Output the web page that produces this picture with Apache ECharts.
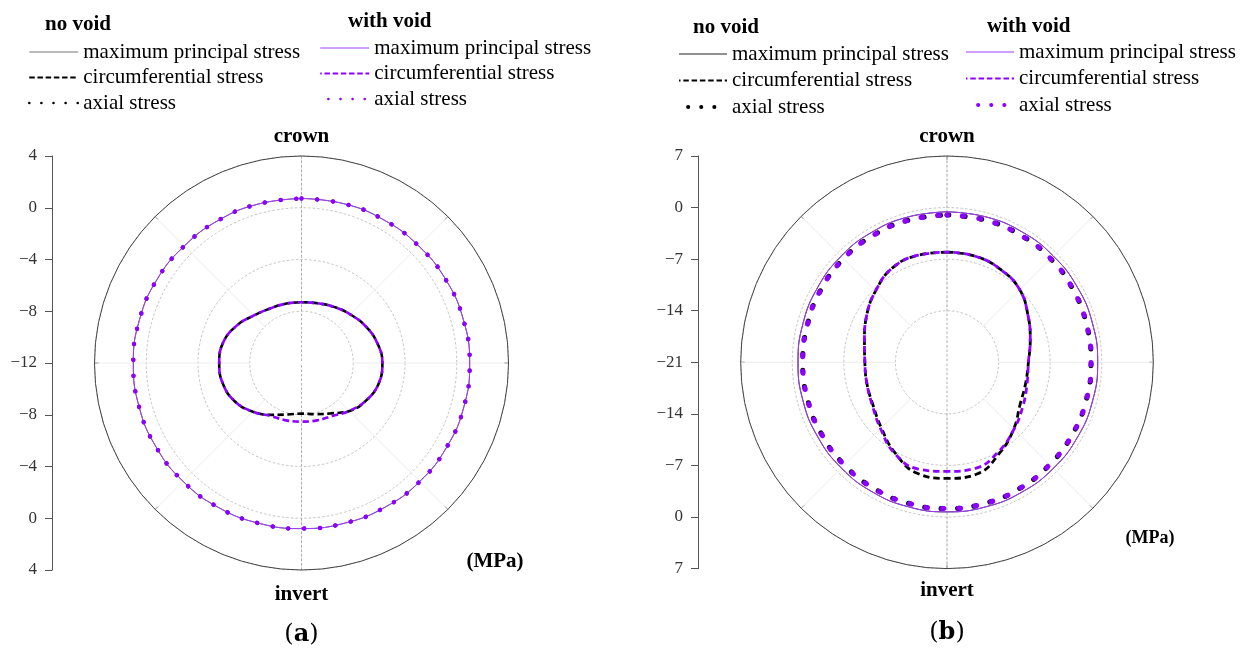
<!DOCTYPE html>
<html>
<head>
<meta charset="utf-8">
<script src="https://cdn.jsdelivr.net/npm/echarts@6/dist/echarts.min.js"></script>
<style>
  html, body { margin: 0; padding: 0; background: #fff; }
  #main { width: 1250px; height: 649px; }
</style>
</head>
<body>
<div id="main"></div>
<script>
// Angular positions (degrees clockwise from the crown)
const angles = [0, 15, 30, 45, 60, 75, 90, 105, 120, 135, 150, 165,
                180, 195, 210, 225, 240, 255, 270, 285, 300, 315, 330, 345];

// Panel (a) stresses, MPa
const aPrincipalNoVoid = [0.72, 0.74, 0.76, 0.80, 0.88, 0.95, 1.00, 1.00, 0.97, 0.94, 0.88, 0.82,
                          0.80, 0.82, 0.88, 0.94, 0.98, 1.00, 1.00, 0.96, 0.90, 0.80, 0.76, 0.73];
const aPrincipalVoid   = [0.72, 0.74, 0.76, 0.80, 0.88, 0.95, 1.00, 1.00, 0.97, 0.94, 0.88, 0.82,
                          0.80, 0.82, 0.88, 0.94, 0.98, 1.00, 1.00, 0.96, 0.90, 0.80, 0.76, 0.73];
const aCircNoVoid = [-7.30, -7.22, -6.99, -6.68, -6.29, -5.95, -5.75, -5.83, -6.22, -6.76, -7.50, -7.91,
                     -8.09, -7.88, -7.37, -6.68, -6.06, -5.72, -5.64, -5.75, -6.22, -6.80, -7.14, -7.26];
const aCircVoid   = [-7.30, -7.22, -6.99, -6.68, -6.29, -5.95, -5.75, -5.83, -6.22, -6.76, -7.26, -7.41,
                     -7.47, -7.41, -7.26, -6.68, -6.06, -5.72, -5.64, -5.75, -6.22, -6.80, -7.14, -7.26];
const aAxialNoVoid = [0.72, 0.74, 0.76, 0.80, 0.88, 0.95, 1.00, 1.00, 0.97, 0.94, 0.88, 0.82,
                      0.80, 0.82, 0.88, 0.94, 0.98, 1.00, 1.00, 0.96, 0.90, 0.80, 0.76, 0.73];
const aAxialVoid   = [0.72, 0.74, 0.76, 0.80, 0.88, 0.95, 1.00, 1.00, 0.97, 0.94, 0.88, 0.82,
                      0.80, 0.82, 0.88, 0.94, 0.98, 1.00, 1.00, 0.96, 0.90, 0.80, 0.76, 0.73];

// Panel (b) stresses, MPa
const bPrincipalNoVoid = [-0.57, -0.57, -0.58, -0.60, -0.58, -0.56, -0.55, -0.56, -0.58, -0.62, -0.66, -0.69,
                          -0.70, -0.70, -0.70, -0.72, -0.75, -0.77, -0.78, -0.76, -0.72, -0.66, -0.61, -0.58];
const bPrincipalVoid   = [-0.57, -0.57, -0.58, -0.60, -0.58, -0.56, -0.55, -0.56, -0.58, -0.62, -0.66, -0.69,
                          -0.70, -0.70, -0.70, -0.72, -0.75, -0.77, -0.78, -0.76, -0.72, -0.66, -0.61, -0.58];
const bCircNoVoid = [-6.05, -6.10, -6.45, -7.05, -8.30, -9.30, -9.95, -9.95, -9.55, -8.20, -6.75, -5.30,
                     -5.25, -5.40, -6.85, -8.40, -9.40, -9.75, -9.85, -9.40, -8.40, -7.30, -6.20, -5.95];
const bCircVoid   = [-6.05, -6.10, -6.45, -7.05, -8.30, -9.30, -9.95, -9.75, -9.10, -8.15, -7.00, -6.10,
                     -6.20, -6.00, -6.75, -8.25, -9.30, -9.75, -9.85, -9.40, -8.40, -7.30, -6.20, -5.95];
const bAxialNoVoid = [-1.00, -1.02, -1.07, -1.11, -1.25, -1.38, -1.45, -1.42, -1.37, -1.33, -1.24, -1.17,
                      -1.15, -1.17, -1.22, -1.30, -1.38, -1.42, -1.42, -1.38, -1.25, -1.13, -1.07, -1.02];
const bAxialVoid   = [-1.00, -1.02, -1.07, -1.11, -1.25, -1.38, -1.45, -1.42, -1.37, -1.33, -1.24, -1.17,
                      -1.15, -1.17, -1.22, -1.30, -1.38, -1.42, -1.42, -1.38, -1.25, -1.13, -1.07, -1.02];

// Radial scales: [centre value, outer value, step]
const aRadial = [-12, 4, 4];
const bRadial = [-21, 7, 7];

const legendNames = {
  p: 'maximum principal stress',
  c: 'circumferential stress',
  x: 'axial stress'
};

const SERIF = '"Liberation Serif", "Times New Roman", serif';
const PURPLE = '#8c00ff';
const PURPLE_LINE = '#a53cff';

// closed loop of [radius, angle] pairs
function loop(values) {
  const pts = values.map((v, i) => [v, angles[i]]);
  pts.push([values[0], 360]);
  return pts;
}

function minusLabel(v) {
  return v < 0 ? '\u2212' + (-v) : String(v);
}

// geometry for each panel
const panels = [
  { key: 'a', cx: 301.5, cy: 363, R: 207, axisX: 52, scale: aRadial },
  { key: 'b', cx: 947, cy: 362.3, R: 206.3, axisX: 698, scale: bRadial }
];

const polar = [], angleAxis = [], radiusAxis = [], grid = [], xAxis = [], yAxis = [];

panels.forEach((p, k) => {
  const [rMin, rMax, step] = p.scale;
  const innerR = p.R * step / (rMax - rMin);
  // main polar (data)
  polar.push({ center: [p.cx, p.cy], radius: [0, p.R] });
  angleAxis.push({
    polarIndex: 3 * k, type: 'value', min: 0, max: 360, interval: 45, startAngle: 90, clockwise: true,
    axisLine: { lineStyle: { color: '#444', width: 1 } },
    axisTick: { show: true, inside: true, length: 4, lineStyle: { color: '#444', width: 1 } },
    axisLabel: { show: false }, splitLine: { show: false }
  });
  radiusAxis.push({
    polarIndex: 3 * k, type: 'value', min: rMin, max: rMax, interval: step,
    axisLine: { show: false }, axisTick: { show: false }, axisLabel: { show: false },
    splitLine: { show: true, lineStyle: { color: '#b4b4b4', width: 0.8, type: [2.5, 2] } }
  });
  // faint radial spokes outside the innermost ring
  polar.push({ center: [p.cx, p.cy], radius: [innerR, p.R] });
  angleAxis.push({
    polarIndex: 3 * k + 1, type: 'value', min: 0, max: 360, interval: 45, startAngle: 90,
    axisLine: { show: false }, axisTick: { show: false }, axisLabel: { show: false },
    splitLine: { show: true, lineStyle: { color: '#ececec', width: 1 } }
  });
  radiusAxis.push({
    polarIndex: 3 * k + 1, type: 'value', min: 0, max: 1,
    axisLine: { show: false }, axisTick: { show: false }, axisLabel: { show: false }, splitLine: { show: false }
  });
  // crown–invert dashed line through the centre
  polar.push({ center: [p.cx, p.cy], radius: [0, p.R] });
  angleAxis.push({
    polarIndex: 3 * k + 2, type: 'value', min: 0, max: 360, interval: 180, startAngle: 90,
    axisLine: { show: false }, axisTick: { show: false }, axisLabel: { show: false },
    splitLine: { show: true, lineStyle: { color: '#9a9a9a', width: 0.8, type: [2.5, 2] } }
  });
  radiusAxis.push({
    polarIndex: 3 * k + 2, type: 'value', min: 0, max: 1,
    axisLine: { show: false }, axisTick: { show: false }, axisLabel: { show: false }, splitLine: { show: false }
  });
  // mirrored value scale on the left
  const span = rMax - rMin;
  grid.push({ left: p.axisX, top: p.cy - p.R, width: 1, height: 2 * p.R });
  xAxis.push({ gridIndex: k, type: 'value', show: false });
  yAxis.push({
    gridIndex: k, type: 'value', min: -span, max: span, interval: step,
    axisLine: { show: true, lineStyle: { color: '#555', width: 1 } },
    axisTick: { show: true, length: 7, lineStyle: { color: '#555' } },
    axisLabel: {
      margin: 15, color: '#333', fontFamily: SERIF, fontSize: 17,
      formatter: v => minusLabel(Math.abs(v) + rMin)
    },
    splitLine: { show: false }
  });
});

function lineSeries(name, polarIndex, values, lineStyle, z) {
  return {
    name, type: 'line', coordinateSystem: 'polar', polarIndex,
    data: loop(values), symbol: 'none', smooth: 0.45, z: z || 2,
    lineStyle, emphasis: { disabled: true }, silent: true
  };
}

const series = [
  // panel (a)
  lineSeries('a0p', 0, aPrincipalNoVoid, { color: '#555', width: 1 }),
  lineSeries('a0c', 0, aCircNoVoid, { color: '#000', width: 2.6, type: [6.5, 3.5] }),
  lineSeries('a0x', 0, aAxialNoVoid, { color: '#000', width: 4, type: [0.1, 15.7], cap: 'round' }),
  lineSeries('a1p', 0, aPrincipalVoid, { color: PURPLE_LINE, width: 1 }, 3),
  lineSeries('a1c', 0, aCircVoid, { color: PURPLE, width: 2.6, type: [6.5, 3.5], dashOffset: 4 }, 3),
  lineSeries('a1x', 0, aAxialVoid, { color: PURPLE, width: 4.5, type: [0.1, 15.7], cap: 'round' }, 3),
  // panel (b)
  lineSeries('b0p', 3, bPrincipalNoVoid, { color: '#222', width: 1 }),
  lineSeries('b0c', 3, bCircNoVoid, { color: '#000', width: 2.8, type: [6.5, 4] }),
  lineSeries('b0x', 3, bAxialNoVoid, { color: '#000', width: 5, type: [2, 14.5], cap: 'round' }),
  lineSeries('b1p', 3, bPrincipalVoid, { color: PURPLE_LINE, width: 1 }, 3),
  lineSeries('b1c', 3, bCircVoid, { color: PURPLE, width: 2.8, type: [6.5, 4], dashOffset: 4 }, 3),
  lineSeries('b1x', 3, bAxialVoid, { color: PURPLE, width: 5, type: [2, 14.5], cap: 'round', dashOffset: 1 }, 3)
];

function legendBlock(left, top, gap, width, items) {
  return {
    left, top, orient: 'vertical', itemWidth: width, itemHeight: 12, itemGap: gap,
    selectedMode: false, padding: 0,
    formatter: n => legendNames[n.charAt(2)],
    textStyle: { fontFamily: SERIF, fontSize: 21, color: '#000', lineHeight: 22 },
    data: items.map(it => ({ name: it[0], itemStyle: { opacity: 0 }, lineStyle: it[1] }))
  };
}

const legend = [
  legendBlock(28, 41, 3.5, 49, [
    ['a0p', { color: '#777', width: 1 }],
    ['a0c', { color: '#000', width: 2, type: [5.5, 2.7] }],
    ['a0x', { color: '#000', width: 2.5, type: [0.1, 12], cap: 'round' }]
  ]),
  legendBlock(319, 37, 3.5, 49, [
    ['a1p', { color: PURPLE_LINE, width: 1 }],
    ['a1c', { color: PURPLE, width: 2, type: [5.5, 2.7] }],
    ['a1x', { color: PURPLE, width: 2.5, type: [0.1, 12], cap: 'round' }]
  ]),
  legendBlock(677, 43, 4.5, 48, [
    ['b0p', { color: '#222', width: 1 }],
    ['b0c', { color: '#000', width: 2.2, type: [5.5, 2.8] }],
    ['b0x', { color: '#000', width: 4, type: [0.1, 13], cap: 'round' }]
  ]),
  legendBlock(964, 41, 4.5, 48, [
    ['b1p', { color: PURPLE_LINE, width: 1 }],
    ['b1c', { color: PURPLE, width: 2.2, type: [5.5, 2.8] }],
    ['b1x', { color: PURPLE, width: 4, type: [0.1, 13], cap: 'round' }]
  ])
];

function txt(x, y, text, font, align) {
  return {
    type: 'text', x, y, silent: true,
    style: { text, font, fill: '#000', align: align || 'center', verticalAlign: 'middle' }
  };
}
const BOLD21 = 'bold 21px ' + SERIF;

const graphic = [
  txt(45, 25, 'no void', BOLD21, 'left'),
  txt(348, 22, 'with void', BOLD21, 'left'),
  txt(693, 28, 'no void', BOLD21, 'left'),
  txt(987, 27, 'with void', BOLD21, 'left'),
  txt(301.5, 137, 'crown', BOLD21),
  txt(301.5, 595, 'invert', BOLD21),
  txt(947, 137, 'crown', BOLD21),
  txt(947, 591, 'invert', BOLD21),
  txt(495, 562, '(MPa)', BOLD21),
  txt(1150, 538, '(MPa)', 'bold 18px ' + SERIF),
  {
    type: 'text', x: 301.5, y: 635, silent: true,
    style: {
      text: '({b|a})', font: '24px "DejaVu Serif", serif', fill: '#000', align: 'center', verticalAlign: 'middle',
      rich: { b: { fontWeight: 'bold', fontSize: 24, fontFamily: '"DejaVu Serif", serif' } }
    }
  },
  {
    type: 'text', x: 947, y: 633, silent: true,
    style: {
      text: '({b|b})', font: '24px "DejaVu Serif", serif', fill: '#000', align: 'center', verticalAlign: 'middle',
      rich: { b: { fontWeight: 'bold', fontSize: 24, fontFamily: '"DejaVu Serif", serif' } }
    }
  }
];

const chart = echarts.init(document.getElementById('main'), null, { renderer: 'canvas' });
chart.setOption({
  animation: false,
  backgroundColor: '#fff',
  polar, angleAxis, radiusAxis, grid, xAxis, yAxis,
  legend, graphic, series
});
</script>
</body>
</html>
